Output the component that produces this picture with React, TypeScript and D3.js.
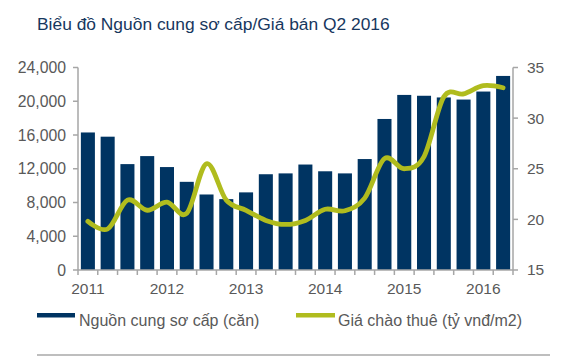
import React from "react";
import * as d3 from "d3";

const title = "Biểu đồ Nguồn cung sơ cấp/Giá bán Q2 2016";
const quarters = [
  "2011Q1","2011Q2","2011Q3","2011Q4",
  "2012Q1","2012Q2","2012Q3","2012Q4",
  "2013Q1","2013Q2","2013Q3","2013Q4",
  "2014Q1","2014Q2","2014Q3","2014Q4",
  "2015Q1","2015Q2","2015Q3","2015Q4",
  "2016Q1","2016Q2",
];
const supply = [
  16300, 15800, 12550, 13500,
  12200, 10450, 8950, 8400,
  9200, 11350, 11450, 12500,
  11700, 11450, 13150, 17900,
  20750, 20650, 20450, 20200,
  21150, 23000,
];
const price = [
  19.8, 19.05, 21.9, 20.9,
  21.7, 20.6, 25.5, 21.9,
  20.9, 19.9, 19.5, 19.9,
  21.0, 20.85, 22.1, 26.0,
  25.0, 26.2, 32.1, 32.4,
  33.2, 33.0,
];
const yearLabels = ["2011", "2012", "2013", "2014", "2015", "2016"];
const yearIndex = [0, 4, 8, 12, 16, 20];
const leftTicks = [0, 4000, 8000, 12000, 16000, 20000, 24000];
const rightTicks = [15, 20, 25, 30, 35];
const legendLabels = ["Nguồn cung sơ cấp (căn)", "Giá chào thuê (tỷ vnđ/m2)"];

const NAVY = "#003462";
const GREEN = "#b0bc1e";
const AXIS = "#a6a6a6";
const TEXT = "#595959";
const FONT = "Liberation Sans, Arial, sans-serif";

export default function App() {
  const W = 566, H = 358;
  const left = 78, right = 513, top = 67.5, bottom = 270;
  const x = d3.scaleBand<number>()
    .domain(quarters.map((_, i) => i))
    .range([left, right])
    .paddingInner(0.29)
    .paddingOuter(0.145);
  const step = (right - left) / quarters.length;
  const yL = d3.scaleLinear().domain([0, 24000]).range([bottom, top]);
  const yR = d3.scaleLinear().domain([15, 35]).range([bottom, top]);
  const fmt = d3.format(",");
  const line = d3.line<number>()
    .x((_, i) => (x(i) as number) + x.bandwidth() / 2)
    .y((d) => yR(d))
    .curve(d3.curveCardinal.tension(0));
  const boundaries = d3.range(quarters.length + 1).map((i) => left + i * step);

  return (
    <svg width={W} height={H} style={{ position: "absolute", left: 0, top: 0, background: "#fff" }} fontFamily={FONT}>
      <text x={37} y={30} fontSize={17.4} fill="#17375e">{title}</text>
      {supply.map((v, i) => (
        <rect key={i} x={x(i)} y={yL(v)} width={x.bandwidth()} height={bottom - yL(v)} fill={NAVY} />
      ))}
      {/* left axis */}
      <line x1={left} x2={left} y1={top} y2={bottom} stroke={AXIS} strokeWidth={1.5} />
      {leftTicks.map((t) => (
        <g key={t}>
          <line x1={left - 5} x2={left} y1={yL(t)} y2={yL(t)} stroke={AXIS} strokeWidth={1.5} />
          <text x={66} y={yL(t)} dy="0.35em" textAnchor="end" fontSize={15.8} fill={TEXT}>{fmt(t)}</text>
        </g>
      ))}
      {/* right axis */}
      <line x1={right} x2={right} y1={top} y2={bottom} stroke={AXIS} strokeWidth={1.5} />
      {rightTicks.map((t) => (
        <g key={t}>
          <line x1={right} x2={right + 5} y1={yR(t)} y2={yR(t)} stroke={AXIS} strokeWidth={1.5} />
          <text x={527} y={yR(t)} dy="0.35em" textAnchor="start" fontSize={15.5} fill={TEXT}>{t}</text>
        </g>
      ))}
      {/* bottom axis */}
      <line x1={left} x2={right} y1={bottom} y2={bottom} stroke={AXIS} strokeWidth={1.5} />
      {boundaries.map((b, i) => (
        <line key={i} x1={b} x2={b} y1={bottom} y2={bottom + 5} stroke={AXIS} strokeWidth={1.5} />
      ))}
      {yearLabels.map((lab, k) => (
        <text key={lab} x={(x(yearIndex[k]) as number) + x.bandwidth() / 2} y={293.5} textAnchor="middle" fontSize={15.5} fill={TEXT}>{lab}</text>
      ))}
      <path d={line(price) || ""} fill="none" stroke={GREEN} strokeWidth={4.8} strokeLinecap="round" />
      {/* legend */}
      <rect x={37} y={313} width={38} height={4.5} fill={NAVY} />
      <text x={79} y={326} fontSize={16} fill={TEXT}>{legendLabels[0]}</text>
      <rect x={296} y={313} width={39} height={4.5} fill={GREEN} />
      <text x={338} y={326} fontSize={16} fill={TEXT}>{legendLabels[1]}</text>
      <line x1={37} x2={550} y1={355} y2={355} stroke="#7f7f7f" strokeWidth={1.2} />
    </svg>
  );
}
